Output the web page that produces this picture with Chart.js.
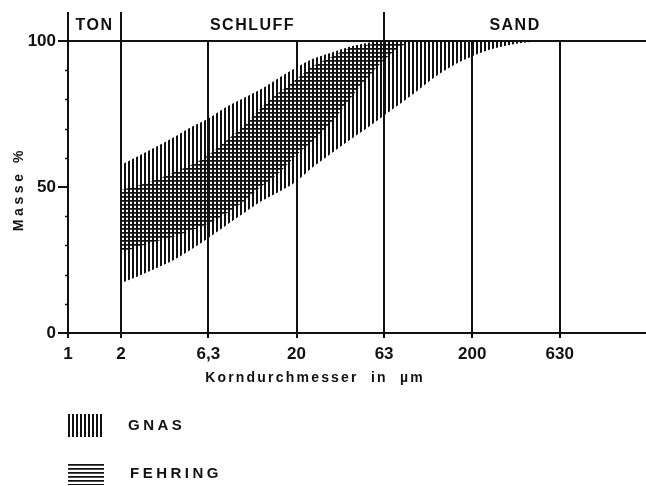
<!DOCTYPE html>
<html>
<head>
<meta charset="utf-8">
<script src="https://cdn.jsdelivr.net/npm/chart.js@4.4.1/dist/chart.umd.min.js"></script>
<style>
  html, body { margin: 0; padding: 0; background: #fff; }
  #wrap { width: 646px; height: 486px; }
</style>
</head>
<body>
<div id="wrap"><canvas id="chart" width="646" height="486"></canvas></div>
<script>
// grain size (µm) and the band limits in mass %
const sizes        = [2, 3, 4, 5, 6.3, 8, 10, 12.5, 16, 20, 25, 31.5, 40, 50, 63, 80, 100, 125, 160, 200, 250, 315, 400, 500];
const gnasLower    = [17, 21.5, 25, 28.5, 32.5, 37, 41, 45, 48.5, 52, 57, 61.5, 66, 70, 74.5, 79, 83.5, 88, 92, 94.8, 97, 98.5, 99.5, 100];
const gnasUpper    = [57.5, 63, 67, 70.5, 73.5, 77.5, 80.5, 83.5, 87.5, 91, 94, 96, 98, 99.3, 100, 100, 100, 100, 100, 100, 100, 100, 100, 100];
const fehringLower = [27.5, 31, 33, 35, 37.5, 41, 45, 50, 55, 61, 66, 72, 80, 87, 93.5, 98.5, 100, null, null, null, null, null, null, null];
const fehringUpper = [49, 52, 55, 57.5, 61, 66, 71, 77, 82.5, 87, 91.5, 94.5, 97.5, 98.6, 99.5, 100, 100, null, null, null, null, null, null, null];

const xTickValues = [1, 2, 6.3, 20, 63, 200, 630];
const xTickLabels = ['1', '2', '6,3', '20', '63', '200', '630'];
const zoneNames   = ['TON', 'SCHLUFF', 'SAND'];
const zoneBounds  = [1, 2, 63, 1950];
const legendNames = ['GNAS', 'FEHRING'];

const INK = '#111';

// hatch fills
function makeHatch(vertical) {
  const c = document.createElement('canvas');
  c.width = 4; c.height = 4;
  const g = c.getContext('2d');
  g.fillStyle = INK;
  if (vertical) {
    g.fillRect(0, 0, 2, 4);
  } else {
    g.fillRect(0, 0, 4, 1);
    g.globalAlpha = 0.75;
    g.fillRect(0, 1, 4, 1);
  }
  return g.createPattern(c, 'repeat');
}
const vHatch = makeHatch(true);
const hHatch = makeHatch(false);

function toPoints(arr) {
  const pts = [];
  arr.forEach((v, i) => { if (v !== null) pts.push({ x: sizes[i], y: v }); });
  return pts;
}

function band(label, data, fill, pattern) {
  return {
    label: label,
    data: toPoints(data),
    borderWidth: 0,
    borderColor: 'rgba(0,0,0,0)',
    pointRadius: 0,
    cubicInterpolationMode: 'monotone',
    fill: fill,
    backgroundColor: pattern,
  };
}

// frame extras, zone labels, titles and legend
const decorPlugin = {
  id: 'decor',
  afterDraw(chart) {
    const ctx = chart.ctx;
    const xs = chart.scales.x, ys = chart.scales.y;
    const area = chart.chartArea;
    ctx.save();
    ctx.strokeStyle = INK;
    ctx.fillStyle = INK;
    ctx.lineWidth = 2;

    // lines above the 100 % line
    [zoneBounds[0], zoneBounds[1], zoneBounds[2]].forEach(v => {
      const px = Math.round(xs.getPixelForValue(v));
      ctx.beginPath();
      ctx.moveTo(px, 12);
      ctx.lineTo(px, area.top);
      ctx.stroke();
    });

    // zone names
    ctx.font = 'bold 16px "Liberation Sans", Arial, sans-serif';
    ctx.letterSpacing = '1.5px';
    ctx.textAlign = 'center';
    ctx.textBaseline = 'middle';
    zoneNames.forEach((name, i) => {
      const a = xs.getPixelForValue(zoneBounds[i]);
      const b = Math.min(xs.getPixelForValue(zoneBounds[i + 1]), chart.width);
      ctx.fillText(name, (a + b) / 2, 26);
    });

    // minor ticks on the y axis
    ctx.lineWidth = 1.5;
    for (let v = 10; v < 100; v += 10) {
      if (v === 50) continue;
      const py = Math.round(ys.getPixelForValue(v)) + 0.5;
      ctx.beginPath();
      ctx.moveTo(area.left - 3, py);
      ctx.lineTo(area.left, py);
      ctx.stroke();
    }

    // axis titles
    ctx.font = 'bold 14px "Liberation Sans", Arial, sans-serif';
    ctx.letterSpacing = '2.2px';
    ctx.fillText('Korndurchmesser  in  µm', 315, 378);

    ctx.save();
    ctx.translate(19, 189);
    ctx.rotate(-Math.PI / 2);
    ctx.letterSpacing = '3.6px';
    ctx.fillText('Masse %', 0, 0);
    ctx.restore();

    // legend
    const pats = [vHatch, hHatch];
    ctx.textAlign = 'left';
    ctx.font = 'bold 15px "Liberation Sans", Arial, sans-serif';
    ctx.letterSpacing = '3.5px';
    legendNames.forEach((name, i) => {
      const top = 414 + i * 48;
      ctx.fillStyle = pats[i];
      ctx.fillRect(68, top, 36, 23);
      ctx.fillStyle = INK;
      ctx.fillText(name, 128 + i * 2, top + 12);
    });
    ctx.restore();
  }
};

new Chart(document.getElementById('chart'), {
  type: 'line',
  data: {
    datasets: [
      band('GNAS unten', gnasLower, false, vHatch),
      band(legendNames[0], gnasUpper, '-1', vHatch),
      band('FEHRING unten', fehringLower, false, hHatch),
      band(legendNames[1], fehringUpper, '-1', hHatch),
    ]
  },
  options: {
    responsive: false,
    animation: false,
    devicePixelRatio: 1,
    layout: { padding: { top: 41, right: 0, left: 0, bottom: 0 } },
    plugins: {
      legend: { display: false },
      tooltip: { enabled: false },
      filler: { propagate: false },
    },
    scales: {
      x: {
        type: 'logarithmic',
        min: zoneBounds[0],
        max: zoneBounds[3],
        afterBuildTicks: s => { s.ticks = xTickValues.map(v => ({ value: v })); },
        afterFit: s => { s.height = 153; },
        border: { display: true, color: INK, width: 2 },
        grid: {
          color: c => (c.tick && c.tick.value > 1 ? INK : 'rgba(0,0,0,0)'),
          tickColor: INK,
          lineWidth: 2,
          tickLength: 5,
          drawOnChartArea: true,
        },
        ticks: {
          autoSkip: false,
          maxRotation: 0,
          padding: 6,
          color: INK,
          font: { family: '"Liberation Sans", Arial, sans-serif', size: 17, weight: 'bold' },
          callback: (v, i) => xTickLabels[i],
        },
      },
      y: {
        type: 'linear',
        min: 0,
        max: 100,
        afterFit: s => { s.width = 68; },
        border: { display: true, color: INK, width: 2 },
        grid: {
          color: c => (c.tick && c.tick.value === 100 ? INK : 'rgba(0,0,0,0)'),
          tickColor: c => (c.tick && c.tick.value % 50 === 0 ? INK : 'rgba(0,0,0,0)'),
          lineWidth: 2,
          tickLength: 10,
        },
        ticks: {
          stepSize: 10,
          padding: 2,
          color: INK,
          font: { family: '"Liberation Sans", Arial, sans-serif', size: 17, weight: 'bold' },
          callback: v => (v % 50 === 0 ? String(v) : ''),
        },
      },
    },
  },
  plugins: [decorPlugin],
});
</script>
</body>
</html>
